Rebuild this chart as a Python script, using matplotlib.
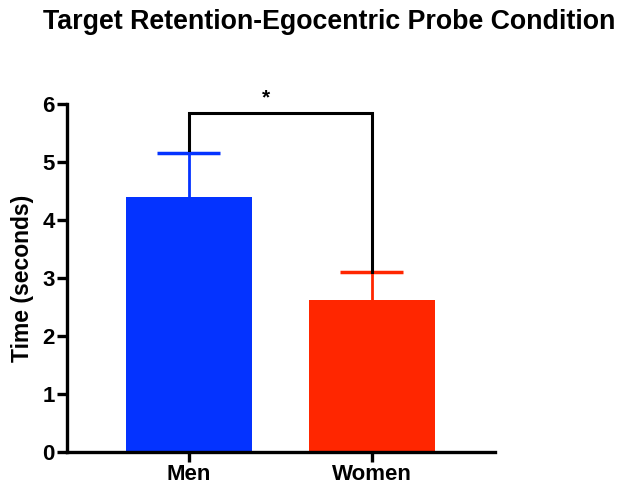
import numpy as np
import matplotlib
matplotlib.use('Agg')
import matplotlib.pyplot as plt

plt.rcParams['font.family'] = ['Liberation Sans', 'DejaVu Sans']
plt.rcParams['font.weight'] = 'bold'

groups = ['Men', 'Women']
means = [4.39, 2.62]
errs = [0.76, 0.48]
colors = ['#0433FF', '#FF2600']
sig_y = 5.84
sig_label = '*'

fig = plt.figure(figsize=(6.21, 4.87), dpi=100)
ax = fig.add_axes([0.1079, 0.0719, 0.6892, 0.7146])

x = np.arange(len(groups))
bar_w = 0.687
cap_w = 0.344
ax.bar(x, means, width=bar_w, color=colors, zorder=2)
for i in range(len(groups)):
    # only the upper half of the error bar, like Prism
    hi = means[i] + errs[i]
    ax.vlines(x[i], means[i], hi, colors=colors[i], lw=2, zorder=3)
    ax.hlines(hi, x[i] - cap_w / 2, x[i] + cap_w / 2, colors=colors[i], lw=2.5, zorder=3)

# significance bracket
top_m = means[0] + errs[0] + 0.06
top_w = means[1] + errs[1]
ax.plot([x[0], x[0], x[1], x[1]], [top_m, sig_y, sig_y, top_w],
        color='black', lw=2.2, solid_joinstyle='miter', zorder=4, clip_on=False)
ax.text((x[0] + x[1]) / 2 - 0.08, sig_y + 0.1, sig_label, ha='center', va='bottom',
        fontsize=15, fontweight='bold')

ax.set_xlim(-0.664, 1.672)
ax.set_ylim(0, 6)
ax.set_yticks(range(0, 7))
ax.set_xticks(x)
ax.set_xticklabels(groups)
for s in ['top', 'right']:
    ax.spines[s].set_visible(False)
for s in ['left', 'bottom']:
    ax.spines[s].set_linewidth(2.4)
ax.tick_params(axis='both', width=2.4, length=7, labelsize=16, pad=2)
ax.set_ylabel('Time (seconds)', fontsize=16.5, fontweight='bold', labelpad=6)

fig.text(0.53, 0.955, 'Target Retention-Egocentric Probe Condition', ha='center', va='center',
         fontsize=19.3, fontweight='bold')

fig.savefig('out.png', dpi=100)
